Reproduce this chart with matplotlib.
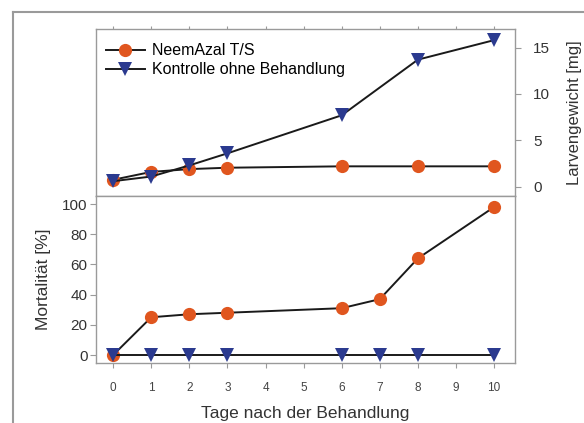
import matplotlib
matplotlib.use("Agg")
import matplotlib.pyplot as plt
from matplotlib.lines import Line2D

plt.rcParams['font.family'] = ['Liberation Sans', 'DejaVu Sans']

# data
tage = [0, 1, 2, 3, 6, 8, 10]
gewicht_neem = [0.75, 1.6, 1.9, 2.05, 2.2, 2.2, 2.2]
gewicht_kontrolle = [0.6, 1.1, 2.3, 3.6, 7.7, 13.7, 15.8]

tage_mort = [0, 1, 2, 3, 6, 7, 8, 10]
mort_neem = [0, 25, 27, 28, 31, 37, 64, 98]
mort_kontrolle = [0, 0, 0, 0, 0, 0, 0, 0]

orange = '#e0561f'
blau = '#2b3a8f'
grau = '#9a9a9a'
text = '#333333'

fig = plt.figure(figsize=(5.84, 4.23), dpi=100)
ax1 = fig.add_axes([0.1644, 0.5366, 0.7175, 0.3948])
ax2 = fig.add_axes([0.1644, 0.1418, 0.7175, 0.3948])

# outer frame (only left and top visible)
fig.add_artist(Line2D([0.0223, 0.0223], [0, 0.9716], color=grau, lw=1.5))
fig.add_artist(Line2D([0.0223, 1.0], [0.9716, 0.9716], color=grau, lw=1.5))

mk = dict(markersize=9.5, markeredgewidth=0)
ax1.plot(tage, gewicht_neem, color='#1a1a1a', lw=1.4, marker='o',
         markerfacecolor=orange, label='NeemAzal T/S', **mk)
ax1.plot(tage, gewicht_kontrolle, color='#1a1a1a', lw=1.4, marker='v',
         markerfacecolor=blau, label='Kontrolle ohne Behandlung', **mk)

ax2.plot(tage_mort, mort_neem, color='#1a1a1a', lw=1.4, marker='o',
         markerfacecolor=orange, **mk)
ax2.plot(tage_mort, mort_kontrolle, color='#1a1a1a', lw=1.4, marker='v',
         markerfacecolor=blau, **mk)

for ax in (ax1, ax2):
    ax.set_xlim(-0.45, 10.55)
    ax.set_xticks(range(11))
    for s in ax.spines.values():
        s.set_color(grau)
        s.set_linewidth(1.0)
    ax.tick_params(color=grau, length=4, width=0.8, labelcolor=text)
    ax.tick_params(axis='y', labelsize=11)
    ax.tick_params(axis='x', labelsize=8.5, length=3.5, pad=10, labelcolor='#444444')

ax1.set_ylim(-1, 17)
ax1.set_yticks([0, 5, 10, 15])
ax1.yaxis.tick_right()
ax1.yaxis.set_label_position('right')
ax1.xaxis.tick_top()
ax1.tick_params(axis='x', labeltop=False, length=2.5)
ax1.tick_params(axis='y', pad=9)
ax1.set_ylabel('Larvengewicht [mg]', fontsize=12, color=text, labelpad=12)
ax1.legend(loc='upper left', bbox_to_anchor=(-0.01, 1.0), frameon=False,
           fontsize=11.5, handlelength=2.4, borderaxespad=0.35, borderpad=0.55,
           labelspacing=0.25, handletextpad=0.45)

ax2.set_ylim(-5.3, 105.3)
ax2.set_yticks([0, 20, 40, 60, 80, 100])
ax2.tick_params(axis='y', pad=2)
ax2.set_ylabel('Mortalität [%]', fontsize=12.5, color=text, labelpad=8)
ax2.set_xlabel('Tage nach der Behandlung', fontsize=12.5, color=text, labelpad=9)

fig.savefig('out.png', dpi=100)
